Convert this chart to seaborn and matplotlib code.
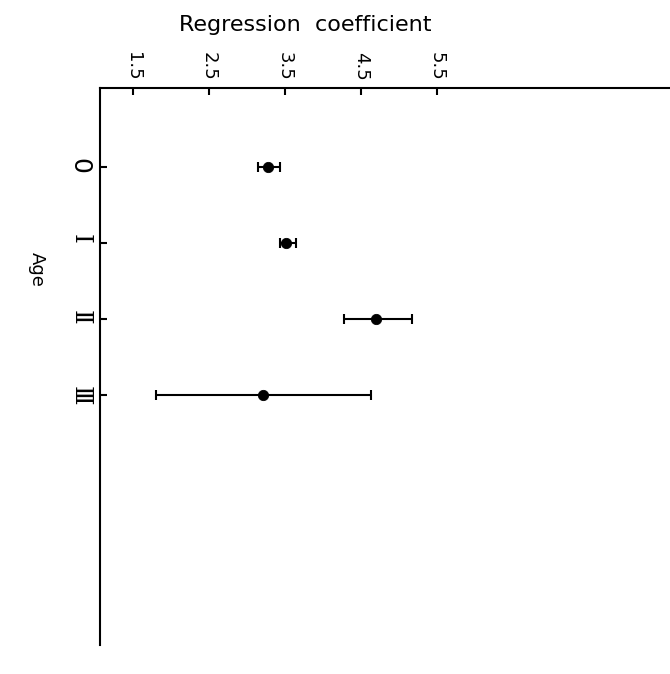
import numpy as np
import pandas as pd
import matplotlib
matplotlib.use("Agg")
import matplotlib.pyplot as plt
import seaborn as sns

# data
ages = ["0", "Ⅰ", "Ⅱ", "Ⅲ"]
coef = [3.28, 3.52, 4.70, 3.21]
lower = [3.14, 3.43, 4.28, 1.80]
upper = [3.43, 3.65, 5.18, 4.64]
ticks = [1.5, 2.5, 3.5, 4.5, 5.5]

df = pd.DataFrame({"age": ages, "pos": np.arange(len(ages)), "coef": coef,
                   "lower": lower, "upper": upper})

sns.set_style("ticks")
plt.rcParams["font.family"] = ["DejaVu Sans"]
plt.rcParams["text.color"] = "black"
plt.rcParams["xtick.color"] = "black"
plt.rcParams["ytick.color"] = "black"
plt.rcParams["axes.edgecolor"] = "black"

fig = plt.figure(figsize=(6.7, 6.74), dpi=100)
ax = fig.add_axes([100 / 670, 29 / 674, 570 / 670, 557 / 674])

# error bars
xerr = np.vstack([df["coef"] - df["lower"], df["upper"] - df["coef"]])
ax.errorbar(df["coef"], df["pos"], xerr=xerr, fmt="none", ecolor="black",
            elinewidth=1.5, capsize=3.5, capthick=1.5, zorder=2)
sns.scatterplot(data=df, x="coef", y="pos", color="black", s=55,
                edgecolor="black", ax=ax, zorder=3, legend=False)

ax.set_xlim(1.066, 8.57)
ax.set_ylim(6.29, -1.04)

# axes: value axis on top, categories on left
ax.xaxis.set_ticks_position("top")
ax.set_xticks(ticks)
ax.set_xticklabels([str(t) for t in ticks])
ax.set_yticks(df["pos"])
ax.set_yticklabels(ages)
ax.tick_params(axis="x", direction="in", length=5, width=1.5, labelsize=13,
               labelrotation=-90, pad=5)
ax.tick_params(axis="y", direction="in", length=5, width=1.5, labelsize=18,
               labelrotation=-90, pad=6)
# roman numerals look closer in the serif face, the zero stays sans
for tick in ax.yaxis.get_major_ticks()[1:]:
    tick.label1.set_fontfamily("DejaVu Serif")
for s in ["right", "bottom"]:
    ax.spines[s].set_visible(False)
for s in ["top", "left"]:
    ax.spines[s].set_linewidth(1.5)
ax.set_xlabel("")
ax.set_ylabel("")

ax.text(0.36, 1.113, "Regression  coefficient", transform=ax.transAxes,
        ha="center", va="center", fontsize=16)
ax.text(-0.1105, 0.675, "Age", transform=ax.transAxes, ha="center",
        va="center", rotation=-90, fontsize=13)

fig.savefig("out.png", dpi=100)
